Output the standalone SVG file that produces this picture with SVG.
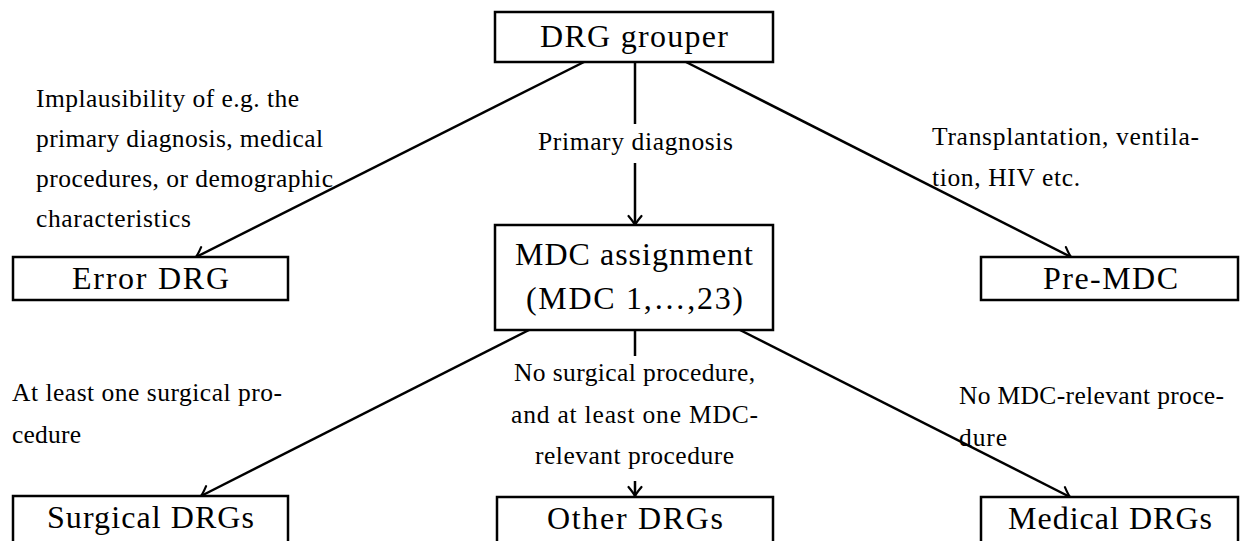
<svg xmlns="http://www.w3.org/2000/svg" width="1248" height="541" viewBox="0 0 1248 541">
<defs>
<style>
.box{fill:#fff;stroke:#000;stroke-width:2.5}
.big{font-family:"Liberation Serif","Times New Roman",serif;font-size:32px;fill:#000}
.sm{font-family:"Liberation Serif","Times New Roman",serif;font-size:25.5px;fill:#000}
.edge{stroke:#000;stroke-width:2.5;fill:none;marker-end:url(#arr)}
.bg{fill:#fff;stroke:none}
</style>
<marker id="arr" markerUnits="userSpaceOnUse" orient="auto" refX="0" refY="0" overflow="visible">
<path d="M -9 -6.5 Q -3 -1.5 0 0 Q -3 1.5 -9 6.5" fill="none" stroke="#000" stroke-width="2.2" stroke-linecap="round"/>
</marker>
</defs>
<rect width="1248" height="541" fill="#fff"/>
<g id="connectors">
<line class="edge" x1="584" y1="62" x2="196" y2="257"/>
<line class="edge" x1="686" y1="62" x2="1071" y2="257"/>
<line class="edge" x1="635" y1="62" x2="635" y2="225"/>
<line class="edge" x1="529" y1="330" x2="201" y2="496"/>
<line class="edge" x1="740" y1="330" x2="1070" y2="497"/>
<line class="edge" x1="635" y1="330" x2="635" y2="496"/>
</g>
<g id="labels">
<g id="label-error">
<text class="sm" x="36" y="107" textLength="263" lengthAdjust="spacing">Implausibility of e.g. the</text>
<text class="sm" x="36" y="147" textLength="287" lengthAdjust="spacing">primary diagnosis, medical</text>
<text class="sm" x="36" y="187" textLength="297" lengthAdjust="spacing">procedures, or demographic</text>
<text class="sm" x="36" y="227" textLength="155" lengthAdjust="spacing">characteristics</text>
</g>
<g id="label-primary">
<rect class="bg" x="530" y="124" width="210" height="39"/>
<text class="sm" x="538" y="150" textLength="195" lengthAdjust="spacing">Primary diagnosis</text>
</g>
<g id="label-premdc">
<text class="sm" x="932" y="145" textLength="267" lengthAdjust="spacing">Transplantation, ventila-</text>
<text class="sm" x="932" y="186" textLength="148" lengthAdjust="spacing">tion, HIV etc.</text>
</g>
<g id="label-surgical">
<text class="sm" x="12" y="401" textLength="270" lengthAdjust="spacing">At least one surgical pro-</text>
<text class="sm" x="12" y="443" textLength="69" lengthAdjust="spacing">cedure</text>
</g>
<g id="label-other">
<rect class="bg" x="503" y="356" width="264" height="125"/>
<text class="sm" x="514" y="381" textLength="241" lengthAdjust="spacing">No surgical procedure,</text>
<text class="sm" x="511" y="423" textLength="247" lengthAdjust="spacing">and at least one MDC-</text>
<text class="sm" x="535" y="464" textLength="199" lengthAdjust="spacing">relevant procedure</text>
</g>
<g id="label-medical">
<text class="sm" x="959" y="404" textLength="265" lengthAdjust="spacing">No MDC-relevant proce-</text>
<text class="sm" x="959" y="446" textLength="48" lengthAdjust="spacing">dure</text>
</g>
</g>
<g id="node-drg-grouper">
<rect class="box" x="495" y="12" width="278" height="50"/>
<text class="big" x="540" y="47" textLength="188" lengthAdjust="spacing">DRG grouper</text>
</g>
<g id="node-error-drg">
<rect class="box" x="13" y="257" width="275" height="43"/>
<text class="big" x="72" y="289" textLength="157" lengthAdjust="spacing">Error DRG</text>
</g>
<g id="node-mdc">
<rect class="box" x="495" y="225" width="278" height="105"/>
<text class="big" x="515" y="265" textLength="238" lengthAdjust="spacing">MDC assignment</text>
<text class="big" x="526" y="309" textLength="217" lengthAdjust="spacing">(MDC 1,…,23)</text>
</g>
<g id="node-pre-mdc">
<rect class="box" x="981" y="257" width="257" height="43"/>
<text class="big" x="1043" y="289" textLength="135" lengthAdjust="spacing">Pre-MDC</text>
</g>
<g id="node-surgical">
<rect class="box" x="13" y="496" width="275" height="60"/>
<text class="big" x="47" y="528" textLength="207" lengthAdjust="spacing">Surgical DRGs</text>
</g>
<g id="node-other">
<rect class="box" x="497" y="497" width="276" height="60"/>
<text class="big" x="547" y="529" textLength="176" lengthAdjust="spacing">Other DRGs</text>
</g>
<g id="node-medical">
<rect class="box" x="981" y="497" width="257" height="60"/>
<text class="big" x="1008" y="529" textLength="204" lengthAdjust="spacing">Medical DRGs</text>
</g>
</svg>
